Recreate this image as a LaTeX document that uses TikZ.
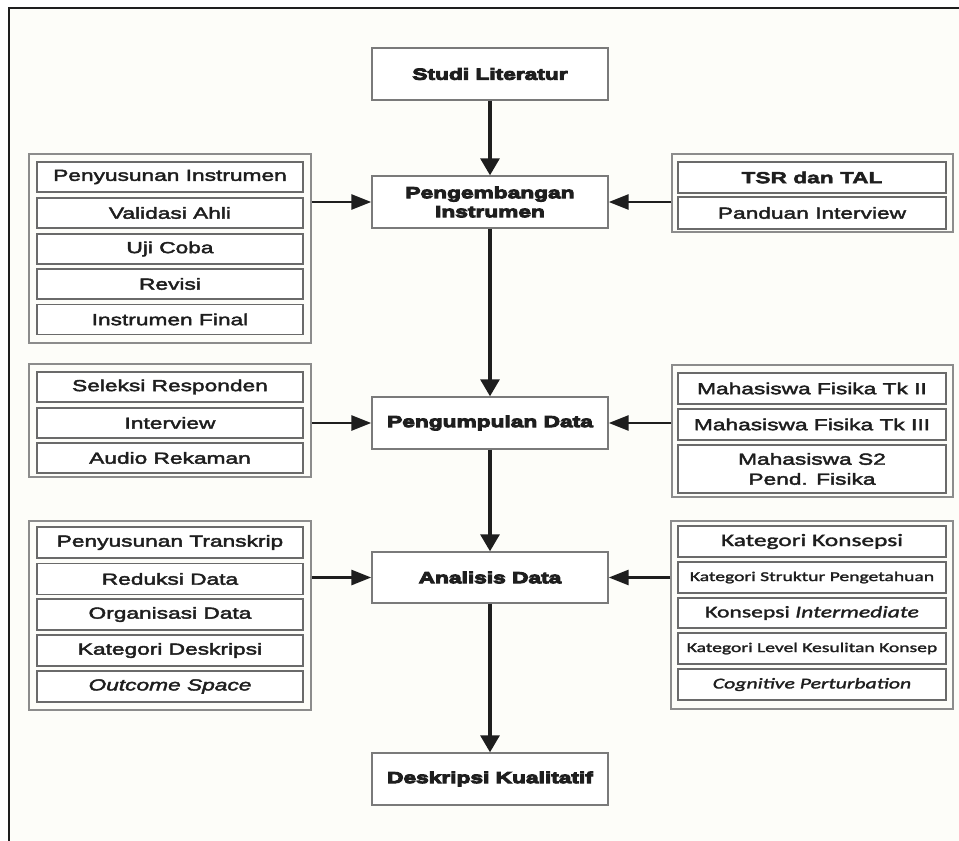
\documentclass[tikz,border=0pt]{standalone}
\usepackage{fontspec}
\setmainfont{Liberation Sans}
\usetikzlibrary{arrows.meta}
% wide sans faces used throughout the flow chart
\newfontfamily\rowfont[FakeStretch=1.42,FakeBold=2.6]{Liberation Sans}
\newfontfamily\headfont[FakeStretch=1.42,FakeBold=6]{Liberation Sans}
\newfontfamily\calfont[FakeStretch=1.45,FakeBold=1.8]{Carlito}
\definecolor{ink}{HTML}{1E1E1E}
\definecolor{paper}{HTML}{FDFDF9}
\definecolor{boxgray}{HTML}{7A7A7A}
\definecolor{rowgray}{HTML}{6A6A6A}
\definecolor{grpgray}{HTML}{8C8C8C}
\tikzset{
  titlebox/.style={draw=boxgray, line width=1.4pt, fill=white, text=ink,
    minimum width=236pt, minimum height=52pt, inner sep=0pt, align=center,
    font=\headfont\bfseries\fontsize{16}{19}\selectfont},
  groupbox/.style={draw=grpgray, line width=1.1pt, fill=paper, inner sep=0pt},
  rowbox/.style={draw=rowgray, line width=1.3pt, fill=white, text=ink,
    minimum width=266pt, minimum height=30pt, inner sep=0pt, align=center,
    font=\rowfont\fontsize{16}{20}\selectfont},
  calrow/.style={rowbox, font=\calfont\fontsize{#1}{18}\selectfont},
  varr/.style={draw=ink, line width=3.2pt, -{Triangle[length=17pt,width=19pt]}},
  harr/.style={draw=ink, line width=2.9pt, -{Triangle[length=20pt,width=15pt]}}
}
\begin{document}
\begin{tikzpicture}[x=1pt,y=-1pt]
\useasboundingbox (0,0) rectangle (959,841);
% page and frame
\fill[white] (0,0) rectangle (959,841);
\fill[paper] (9,8) rectangle (959,841);
\draw[ink, line width=2.4pt] (9,841) -- (9,8) -- (959,8);

% main chain
\node[titlebox] (studi)  at (490,74)    {Studi Literatur};
\node[titlebox] (peng)   at (490,202)   {Pengembangan\\Instrumen};
\node[titlebox] (kumpul) at (490,423)   {Pengumpulan Data};
\node[titlebox, minimum height=51pt] (anal) at (490,577.5) {Analisis Data};
\node[titlebox] (desk)   at (490,779)   {Deskripsi Kualitatif};

% left groups
\node[groupbox, minimum width=282pt, minimum height=189pt] (gA) at (170,248.5) {};
\node[rowbox] (a1) at (170,177)   {Penyusunan Instrumen};
\node[rowbox] (a2) at (170,213)   {Validasi Ahli};
\node[rowbox] (a3) at (170,249)   {Uji Coba};
\node[rowbox] (a4) at (170,284)   {Revisi};
\node[rowbox] (a5) at (170,319.5) {Instrumen Final};

\node[groupbox, minimum width=282pt, minimum height=113pt] (gB) at (170,420.5) {};
\node[rowbox] (b1) at (170,387) {Seleksi Responden};
\node[rowbox] (b2) at (170,423) {Interview};
\node[rowbox] (b3) at (170,458) {Audio Rekaman};

\node[groupbox, minimum width=282pt, minimum height=189pt] (gC) at (170,615.5) {};
\node[rowbox, minimum height=31pt] (c1) at (170,542.5) {Penyusunan Transkrip};
\node[rowbox, minimum height=31pt] (c2) at (170,579)   {Reduksi Data};
\node[rowbox, minimum height=31pt] (c3) at (170,614.5) {Organisasi Data};
\node[rowbox, minimum height=31pt] (c4) at (170,650.5) {Kategori Deskripsi};
\node[rowbox, minimum height=31pt] (c5) at (170,686.5) {\itshape Outcome Space};

% right groups
\node[groupbox, minimum width=281pt, minimum height=78pt] (gD) at (812.5,193) {};
\node[rowbox, minimum width=268pt, minimum height=31pt] (d1) at (812,177.5) {\bfseries TSR dan TAL};
\node[rowbox, minimum width=268pt, minimum height=32pt] (d2) at (812,213)   {Panduan Interview};

\node[groupbox, minimum width=281pt, minimum height=132pt] (gE) at (812.5,431) {};
\node[rowbox, minimum width=268pt, minimum height=31pt] (e1) at (812,388.5) {Mahasiswa Fisika Tk II};
\node[rowbox, minimum width=268pt, minimum height=31pt] (e2) at (812,424.5) {Mahasiswa Fisika Tk III};
\node[rowbox, minimum width=268pt, minimum height=48pt] (e3) at (812,469)   {Mahasiswa S2\\Pend. Fisika};

\node[groupbox, minimum width=282pt, minimum height=188pt] (gF) at (812,615) {};
\node[calrow=17.5, minimum width=268pt, minimum height=31pt] (f1) at (812,541.5) {Kategori Konsepsi};
\node[calrow=13.5, minimum width=268pt, minimum height=31pt] (f2) at (812,577.5) {Kategori Struktur Pengetahuan};
\node[calrow=16.3, minimum width=268pt, minimum height=30pt] (f3) at (812,613)   {Konsepsi \itshape Intermediate};
\node[calrow=13.5, minimum width=268pt, minimum height=31pt] (f4) at (812,648.5) {Kategori Level Kesulitan Konsep};
\node[calrow=15,   minimum width=268pt, minimum height=31pt] (f5) at (812,684.5) {\itshape Cognitive Perturbation};

% connectors
\draw[varr] (studi) -- (peng);
\draw[varr] (peng) -- (kumpul);
\draw[varr] (kumpul) -- (anal);
\draw[varr] (anal) -- (desk);
\draw[harr] (gA.east |- peng.west) -- (peng.west);
\draw[harr] (gD.west |- peng.east) -- (peng.east);
\draw[harr] (gB.east |- kumpul.west) -- (kumpul.west);
\draw[harr] (gE.west |- kumpul.east) -- (kumpul.east);
\draw[harr] (gC.east |- anal.west) -- (anal.west);
\draw[harr] (gF.west |- anal.east) -- (anal.east);
\end{tikzpicture}
\end{document}
